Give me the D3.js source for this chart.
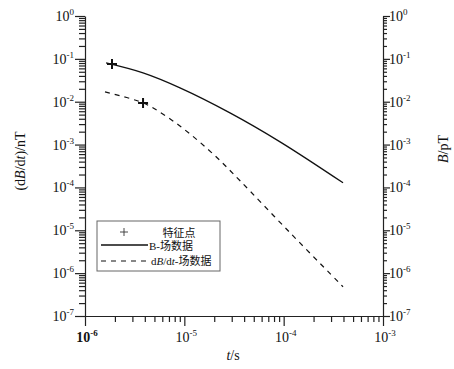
<html>
<head>
<meta charset="UTF-8">
<script src="https://d3js.org/d3.v7.min.js"></script>
<style>
  body { margin: 0; background: #fff; }
  svg text { font-family: "Liberation Serif", "Noto Sans CJK SC", serif; fill: #111; }
  .axis path, .axis line { stroke: #222; }
</style>
</head>
<body>
<svg id="chart"></svg>
<script>
// B-field curve (solid), dB/dt curve (dashed), feature points
var timeB = [1.63e-6, 3.84e-6, 9.04e-6, 2.88e-5, 9.2e-5, 3.96e-4];
var valB = [0.0802, 0.0469, 0.0210, 0.00548, 0.001156, 0.000128];
var timeDB = [1.59e-6, 3.84e-6, 6.70e-6, 1.14e-5, 2.04e-5, 3.64e-5, 1.16e-4, 3.96e-4];
var valDB = [0.0169, 0.00938, 0.00443, 0.00177, 0.000546, 0.000143, 8.75e-6, 4.82e-7];
var featT = [1.87e-6, 3.84e-6];
var featV = [0.076, 0.00938];

var yExp = [0, -1, -2, -3, -4, -5, -6, -7];
var xExp = [-6, -5, -4, -3];
var legendLabels = ["特征点", "B-场数据", "dB/dt-场数据"];

var width = 454, height = 369;
var svg = d3.select('#chart').attr('width', width).attr('height', height);

var x = d3.scaleLog().domain([1e-6, 1e-3]).range([85, 383]);
var y = d3.scaleLog().domain([1e-7, 1]).range([316, 16]);

function minors(lo, hi) {
  var out = [];
  for (var e = lo; e < hi; e++)
    for (var k = 2; k <= 9; k++) out.push(k * Math.pow(10, e));
  return out;
}
var yMajor = yExp.map(e => Math.pow(10, e));
var xMajor = xExp.map(e => Math.pow(10, e));

// left axis
var gl = svg.append('g').attr('class', 'axis').attr('transform', 'translate(85,0)');
gl.call(d3.axisLeft(y).tickValues(minors(-7, 0)).tickSize(6).tickFormat('').tickSizeOuter(0));
gl.append('g').call(d3.axisLeft(y).tickValues(yMajor).tickSize(10).tickFormat('').tickSizeOuter(0))
  .select('.domain').remove();

// right axis
var gr = svg.append('g').attr('class', 'axis').attr('transform', 'translate(383,0)');
gr.call(d3.axisRight(y).tickValues(minors(-7, 0)).tickSize(4).tickFormat('').tickSizeOuter(0));
gr.append('g').call(d3.axisRight(y).tickValues(yMajor).tickSize(7).tickFormat('').tickSizeOuter(0))
  .select('.domain').remove();

// bottom axis
var gb = svg.append('g').attr('class', 'axis').attr('transform', 'translate(0,316)');
gb.call(d3.axisBottom(x).tickValues(minors(-6, -3)).tickSize(6).tickFormat('').tickSizeOuter(0));
gb.append('g').call(d3.axisBottom(x).tickValues(xMajor).tickSize(10).tickFormat('').tickSizeOuter(0))
  .select('.domain').remove();
svg.selectAll('.axis line, .axis path').attr('stroke-width', 1.2);

function powLabel(sel, e) {
  sel.append('tspan').text('10');
  sel.append('tspan').attr('dy', -6).attr('font-size', 9).text(e);
}

svg.append('g').selectAll('text').data(yExp).join('text')
  .attr('x', 74).attr('y', e => y(Math.pow(10, e)) + 5)
  .attr('text-anchor', 'end').attr('font-size', 14)
  .each(function(e) { powLabel(d3.select(this), e); });

svg.append('g').selectAll('text').data(yExp).join('text')
  .attr('x', 389).attr('y', e => y(Math.pow(10, e)) + 5)
  .attr('font-size', 14)
  .each(function(e) { powLabel(d3.select(this), e); });

svg.append('g').selectAll('text').data(xExp).join('text')
  .attr('x', e => x(Math.pow(10, e)) + 2).attr('y', 342)
  .attr('text-anchor', 'middle').attr('font-size', 14)
  .attr('font-weight', (e, i) => i === 0 ? 'bold' : null)
  .each(function(e) { powLabel(d3.select(this), e); });

// axis titles
var yt = svg.append('text').attr('transform', 'translate(25,161) rotate(-90)')
  .attr('text-anchor', 'middle').attr('font-size', 14);
yt.append('tspan').text('(d');
yt.append('tspan').attr('font-style', 'italic').text('B');
yt.append('tspan').text('/d');
yt.append('tspan').attr('font-style', 'italic').text('t');
yt.append('tspan').text(')/nT');

var yr = svg.append('text').attr('transform', 'translate(448,149) rotate(-90)')
  .attr('text-anchor', 'middle').attr('font-size', 14);
yr.append('tspan').attr('font-style', 'italic').text('B');
yr.append('tspan').text('/pT');

var xt = svg.append('text').attr('x', 233).attr('y', 360)
  .attr('text-anchor', 'middle').attr('font-size', 14);
xt.append('tspan').attr('font-style', 'italic').text('t');
xt.append('tspan').text('/s');

// curves
var line = d3.line().x(d => x(d[0])).y(d => y(d[1])).curve(d3.curveCatmullRom.alpha(0.5));
svg.append('path').datum(d3.zip(timeB, valB)).attr('d', line)
  .attr('fill', 'none').attr('stroke', '#111').attr('stroke-width', 1.3);
svg.append('path').datum(d3.zip(timeDB, valDB)).attr('d', line)
  .attr('fill', 'none').attr('stroke', '#111').attr('stroke-width', 1.2)
  .attr('stroke-dasharray', '5,5');

// feature markers
svg.append('g').selectAll('path').data(d3.zip(featT, featV)).join('path')
  .attr('d', 'M-5,0H5M0,-5V5')
  .attr('transform', d => 'translate(' + x(d[0]) + ',' + y(d[1]) + ')')
  .attr('stroke', '#111').attr('stroke-width', 2).attr('fill', 'none');

// legend
var lg = svg.append('g');
lg.append('rect').attr('x', 97).attr('y', 221).attr('width', 123).attr('height', 50)
  .attr('fill', '#fff').attr('stroke', '#666').attr('stroke-width', 1);
lg.append('path').attr('d', 'M120,232H128M124,228V236').attr('stroke', '#333').attr('stroke-width', 0.9);
lg.append('line').attr('x1', 101).attr('x2', 148).attr('y1', 245).attr('y2', 245)
  .attr('stroke', '#111').attr('stroke-width', 1.3);
lg.append('line').attr('x1', 101).attr('x2', 148).attr('y1', 261).attr('y2', 261)
  .attr('stroke', '#111').attr('stroke-width', 1.2).attr('stroke-dasharray', '5,5');
lg.append('text').attr('x', 179).attr('y', 237).attr('text-anchor', 'middle')
  .attr('font-size', 11).text(legendLabels[0]);
lg.append('text').attr('x', 149).attr('y', 250).attr('font-size', 11).text(legendLabels[1]);
var l3 = lg.append('text').attr('x', 151).attr('y', 265).attr('font-size', 11);
l3.append('tspan').text('d');
l3.append('tspan').attr('font-style', 'italic').text('B');
l3.append('tspan').text('/d');
l3.append('tspan').attr('font-style', 'italic').text('t');
l3.append('tspan').text('-场数据');
</script>
</body>
</html>
